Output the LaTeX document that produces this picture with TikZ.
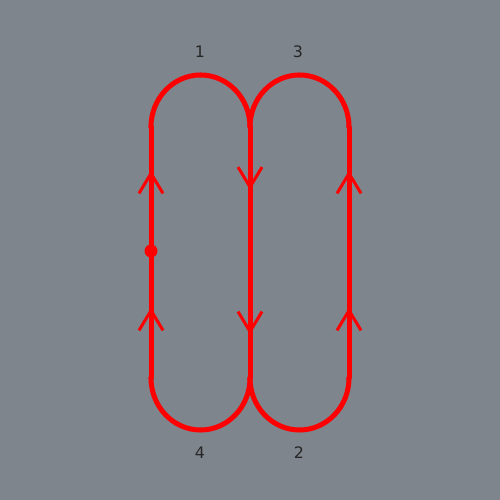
\documentclass[tikz,border=0pt]{standalone}
\usepackage{fontspec}
\setmainfont{DejaVu Sans}
\usetikzlibrary{arrows.meta}
\usetikzlibrary{decorations.markings}
\definecolor{bggray}{RGB}{127,133,140}
\definecolor{loopred}{RGB}{255,0,0}

\begin{document}
\begin{tikzpicture}[
  track/.style={loopred, line width=0.1cm},
  chevs/.style={postaction={decorate, decoration={markings,
      mark=at position #1 with {\arrow{Straight Barb[length=0.4cm, width=0.48cm, line width=0.06cm]}},
      mark=at position 4.15cm with {\arrow{Straight Barb[length=0.4cm, width=0.48cm, line width=0.06cm]}}}}},
  joint/.style={circle, fill=loopred, inner sep=0pt, minimum size=0.13cm},
  lbl/.style={font=\fontsize{9}{11}\selectfont, text=black!85}]
\fill[bggray] (0,0) rectangle (10,10);
% joints of the three straight runs
\coordinate (lt) at (3.02,7.46); \coordinate (lb) at (3.02,2.44);
\coordinate (mt) at (5.00,7.46); \coordinate (mb) at (5.00,2.44);
\coordinate (rt) at (6.98,7.46); \coordinate (rb) at (6.98,2.44);
% arcs
\draw[track] (lt) arc[start angle=180, end angle=0, x radius=0.99, y radius=1.04];
\draw[track] (mt) arc[start angle=180, end angle=0, x radius=0.99, y radius=1.04];
\draw[track] (lb) arc[start angle=180, end angle=360, x radius=0.99, y radius=1.04];
\draw[track] (mb) arc[start angle=180, end angle=360, x radius=0.99, y radius=1.04];
% straight runs with direction marks
\draw[track, chevs=1.41cm] (lb) -- (lt);
\draw[track, chevs=1.26cm] (mt) -- (mb);
\draw[track, chevs=1.41cm] (rb) -- (rt);
\foreach \j in {lt,lb,mt,mb,rt,rb} \node[joint, minimum size=0.11cm] at (\j) {};
\node[joint, minimum size=0.09cm] at (4.00,8.50) {};
\node[joint, minimum size=0.09cm] at (5.98,8.50) {};
\node[joint, minimum size=0.09cm] at (4.00,1.40) {};
\node[joint, minimum size=0.09cm] at (5.98,1.40) {};
\node[joint, minimum size=0.26cm] (start) at (3.02,4.98) {};
% turn labels
\node[lbl] (t1) at (4.00,8.96) {1};
\node[lbl] (t3) at (5.96,8.96) {3};
\node[lbl] (t4) at (4.00,0.94) {4};
\node[lbl] (t2) at (5.98,0.94) {2};
\end{tikzpicture}
\end{document}
